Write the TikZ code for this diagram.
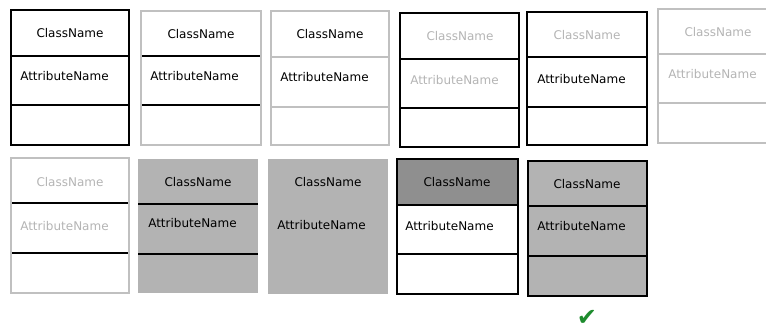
\documentclass[tikz,border=0pt]{standalone}
\usepackage{fontspec}
\setmainfont{DejaVu Sans}
\definecolor{paleline}{HTML}{C0C0C0}
\definecolor{paletext}{HTML}{B4B4B4}
\definecolor{boxgrey}{HTML}{B3B3B3}
\definecolor{headgrey}{HTML}{8F8F8F}
\definecolor{okgreen}{HTML}{1E8C2E}

\begin{document}
\begin{tikzpicture}[
      x=0.75pt, y=-0.75pt,
      dark/.style={draw=black, line width=1.5pt},
      pale/.style={draw=paleline, line width=1.5pt},
      cname/.style={font=\fontsize{9}{11}\selectfont, inner sep=0pt},
      aname/.style={font=\fontsize{9}{11}\selectfont, inner sep=0pt, anchor=west},
      faded/.style={text=paletext}
    ]
    \clip (0,0) rectangle (766,331);
    % top row
    \draw[dark] (11,56) -- (129,56) (11,105) -- (129,105);
    \draw[dark] (11,10) rectangle (129,145);
    \node[cname] (c1) at (70,33) {ClassName};
    \node[aname] (a1) at (20,76) {AttributeName};

    \draw[dark] (141,56) -- (261,56) (141,105) -- (261,105);
    \draw[pale] (141,11) rectangle (261,145);
    \node[cname] (c2) at (201,34) {ClassName};
    \node[aname] (a2) at (150,76) {AttributeName};

    \draw[pale] (271,57) -- (389,57) (271,107) -- (389,107);
    \draw[pale] (271,11) rectangle (389,145);
    \node[cname] (c3) at (330,34) {ClassName};
    \node[aname] (a3) at (280,77) {AttributeName};

    \draw[dark] (400,59) -- (519,59) (400,108) -- (519,108);
    \draw[dark] (400,13) rectangle (519,147);
    \node[cname, faded] (c4) at (460,36) {ClassName};
    \node[aname, faded] (a4) at (410,80) {AttributeName};

    \draw[dark] (527,57) -- (647,57) (527,107) -- (647,107);
    \draw[dark] (527,12) rectangle (647,145);
    \node[cname, faded] (c5) at (587,35) {ClassName};
    \node[aname] (a5) at (537,79) {AttributeName};

    \draw[pale] (658,54) -- (778,54) (658,103) -- (778,103);
    \draw[pale] (658,9) rectangle (778,143);
    \node[cname, faded] (c6) at (718,32) {ClassName};
    \node[aname, faded] (a6) at (668,74) {AttributeName};

    % bottom row
    \draw[dark] (11,203) -- (129,203) (11,253) -- (129,253);
    \draw[pale] (11,158) rectangle (129,293);
    \node[cname, faded] (c7) at (70,182) {ClassName};
    \node[aname, faded] (a7) at (20,226) {AttributeName};

    \fill[boxgrey] (138,159) rectangle (258,293);
    \draw[dark] (138,204) -- (258,204) (138,254) -- (258,254);
    \node[cname] (c8) at (198,182) {ClassName};
    \node[aname] (a8) at (148,223) {AttributeName};

    \fill[boxgrey] (268,159) rectangle (388,294);
    \node[cname] (c9) at (328,182) {ClassName};
    \node[aname] (a9) at (277,225) {AttributeName};

    \fill[headgrey] (397,159) rectangle (518,205);
    \draw[dark] (397,205) -- (518,205) (397,254) -- (518,254);
    \draw[dark] (397,159) rectangle (518,294);
    \node[cname] (c10) at (457,182) {ClassName};
    \node[aname] (a10) at (405,226) {AttributeName};

    \fill[boxgrey] (528,161) rectangle (647,296);
    \draw[dark] (528,206) -- (647,206) (528,256) -- (647,256);
    \draw[dark] (528,161) rectangle (647,296);
    \node[cname] (c11) at (587,184) {ClassName};
    \node[aname] (a11) at (537,226) {AttributeName};

    \node[text=okgreen, font=\fontsize{18}{18}\selectfont, inner sep=0pt, anchor=base] (ok) at (587,325) {✔};
    \end{tikzpicture}
\end{document}
